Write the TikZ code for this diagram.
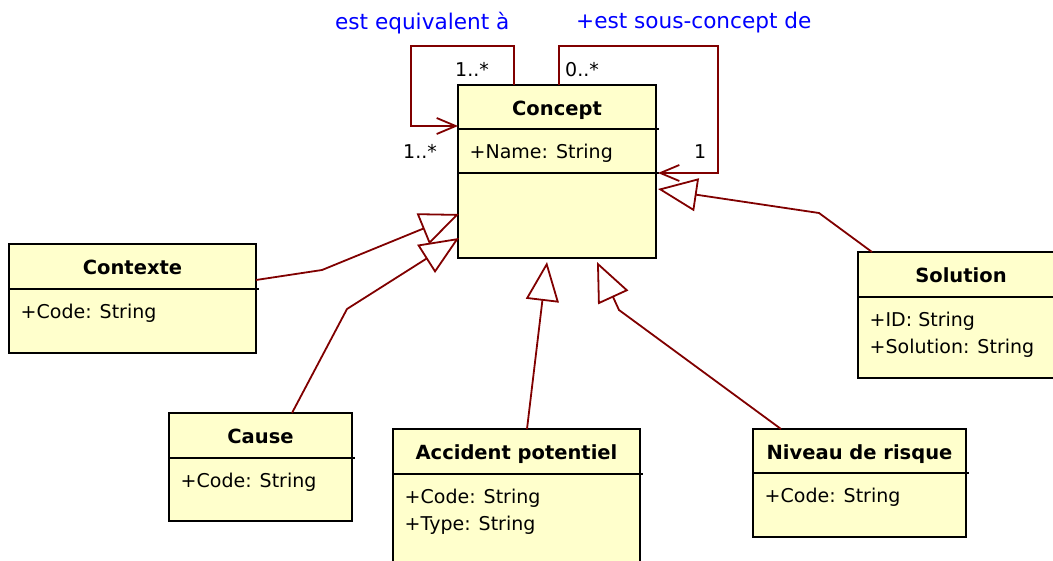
\documentclass[tikz,border=0pt]{standalone}
\usepackage{fontspec}
\setmainfont{DejaVu Sans}
\usetikzlibrary{arrows.meta}
\definecolor{clsfill}{RGB}{255,255,204}
\definecolor{lnk}{RGB}{128,0,0}
\definecolor{lblblue}{RGB}{0,0,255}
\tikzset{
 classbox/.style={draw=black, fill=clsfill, line width=2pt, inner sep=0pt, outer sep=0pt},
 boxline/.style={draw=black, line width=2pt},
 titletext/.style={font=\fontsize{19.5}{23}\selectfont\bfseries, inner sep=0pt},
 attrtext/.style={font=\fontsize{19}{23}\selectfont, inner sep=0pt},
 multtext/.style={font=\fontsize{19}{23}\selectfont, inner sep=0pt},
 roletext/.style={font=\fontsize{21.6}{26}\selectfont, text=lblblue, inner sep=0pt},
 gen/.style={draw=lnk, line width=1.8pt, -{Triangle[open, length=39pt, width=33pt]}},
 assoc/.style={draw=lnk, line width=1.8pt, -{Straight Barb[length=19pt, width=16pt]}},
}
\newcommand{\umlclass}[8]{%
  \pgfmathsetmacro\clw{#4-#2}\pgfmathsetmacro\clh{#5-#3}%
  \node[classbox, minimum width=\clw pt, minimum height=\clh pt, anchor=north west] (#1) at (#2,#3) {};
  \draw[boxline] (#2,#6) -- (#4+3,#6);
  \node[titletext, anchor=base] (#1-title) at ({(#2+#4)/2},#3+30.5) {#7};
  \node[attrtext, anchor=base west] (#1-attr) at (#2+11.5,#6+29.5) {#8};
}
\begin{document}
\begin{tikzpicture}[x=1pt,y=-1pt]
\useasboundingbox (0,0) rectangle (1053,560);
% classes
\umlclass{concept}{458}{85}{656}{258}{129}{Concept}{+Name: String}
\draw[boxline] (458,173) -- (659,173);
\umlclass{contexte}{9}{244}{256}{353}{289}{Contexte}{+Code: String}
\umlclass{solution}{858}{252}{1064}{378}{297}{Solution}{+ID: String}
\node[attrtext, anchor=base west] (solution-attr2) at (869.5,353) {+Solution: String};
\umlclass{cause}{169}{413}{352}{521}{458}{Cause}{+Code: String}
\umlclass{accident}{393}{429}{640}{590}{474}{Accident potentiel}{+Code: String}
\node[attrtext, anchor=base west] (accident-attr2) at (404.5,530) {+Type: String};
\umlclass{niveau}{753}{429}{966}{537}{473}{Niveau de risque}{+Code: String}
% tips
\coordinate (ctxTip) at (459,214);
\coordinate (cauTip) at (459,238);
\coordinate (accTip) at (547,262);
\coordinate (nivTip) at (597,262);
\coordinate (solTip) at (658,189);
% generalizations
\draw[gen] (contexte.east |- 0,280) -- (322,270) -- (ctxTip);
\draw[gen] (cause.north -| 292,0) -- (347,309) -- (cauTip);
\draw[gen] (accident.north -| 527,0) -- (accTip);
\draw[gen] (niveau.north -| 781,0) -- (619,310) -- (nivTip);
\draw[gen] (solution.north -| 872,0) -- (819,213) -- (solTip);
% self associations
\draw[assoc] (concept.north -| 514,0) -- (514,46) -- (411,46) -- (411,126) -- (concept.west |- 0,126);
\draw[assoc] (concept.north -| 559,0) -- (559,46) -- (718,46) -- (718,173) -- (658,173);
% labels
\node[roletext, anchor=base west] (r1) at (335,29) {est equivalent à};
\node[roletext, anchor=base west] (r2) at (576,28) {+est sous-concept de};
\node[multtext, anchor=base west] (m1) at (455,76) {1..*};
\node[multtext, anchor=base west] (m2) at (565,76) {0..*};
\node[multtext, anchor=base west] (m3) at (403,158) {1..*};
\node[multtext, anchor=base west] (m4) at (694,158) {1};
\end{tikzpicture}
\end{document}
